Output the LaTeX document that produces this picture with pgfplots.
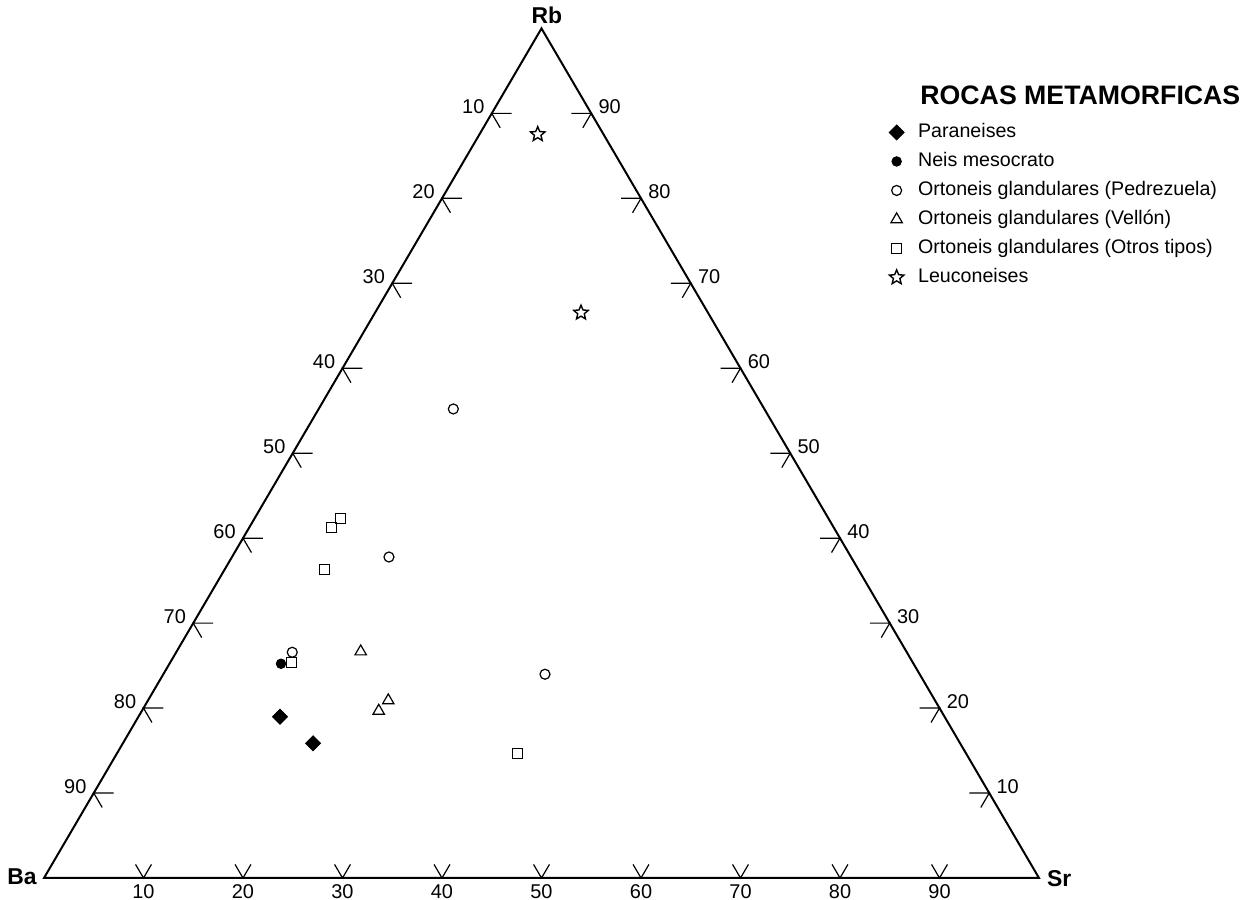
\documentclass[border=0pt]{standalone}
\usepackage{fontspec}
\setmainfont{Liberation Sans}
\usepackage{pgfplots}
\pgfplotsset{compat=1.18}
\pgfdeclareplotmark{ostar}{%
  \pgfpathmoveto{\pgfpointpolar{90}{\pgfplotmarksize}}%
  \pgfpathlineto{\pgfpointpolar{126}{0.45\pgfplotmarksize}}%
  \pgfpathlineto{\pgfpointpolar{162}{\pgfplotmarksize}}%
  \pgfpathlineto{\pgfpointpolar{198}{0.45\pgfplotmarksize}}%
  \pgfpathlineto{\pgfpointpolar{234}{\pgfplotmarksize}}%
  \pgfpathlineto{\pgfpointpolar{270}{0.45\pgfplotmarksize}}%
  \pgfpathlineto{\pgfpointpolar{306}{\pgfplotmarksize}}%
  \pgfpathlineto{\pgfpointpolar{342}{0.45\pgfplotmarksize}}%
  \pgfpathlineto{\pgfpointpolar{18}{\pgfplotmarksize}}%
  \pgfpathlineto{\pgfpointpolar{54}{0.45\pgfplotmarksize}}%
  \pgfpathclose
  \pgfusepathqstroke
}
\begin{document}
\begin{tikzpicture}
\begin{axis}[
  width=628bp, height=450bp, scale only axis,
  xmin=-4.422, xmax=121.81, ymin=-2.243, ymax=89.50,
  hide axis, clip=false,
  legend cell align=left,
  legend style={at={(axis cs:84.9,77.2)}, anchor=north west, draw=none, fill=none,
    inner sep=0pt, row sep=3.1bp,
    font=\fontsize{9.85}{11}\selectfont,
    /tikz/every odd column/.append style={column sep=5bp},
    nodes={text height=7.2bp, text depth=2.2bp, inner ysep=1bp}},
]
% frame
\draw[line width=1bp] (axis cs:0,0) -- (axis cs:100,0) -- (axis cs:50,86.6) -- cycle;
% bottom ticks (Sr)
\pgfplotsinvokeforeach{10,20,...,90}{
  \draw[line width=0.6bp] (axis cs:{#1-0.8},1.386) -- (axis cs:#1,0) -- (axis cs:{#1+0.8},1.386);
  \node[anchor=base, inner sep=0pt, font=\fontsize{10}{12}\selectfont] at (axis cs:#1,-2.14) {#1};
}
% left ticks
\pgfplotsinvokeforeach{10,20,...,90}{
  \draw[line width=0.6bp] (axis cs:{50-#1/2+2},{0.866*(100-#1)}) -- (axis cs:{50-#1/2},{0.866*(100-#1)}) -- (axis cs:{50-#1/2+0.85},{0.866*(100-#1)-1.47});
  \node[anchor=base east, inner sep=0pt, xshift=-3.5bp, font=\fontsize{10}{12}\selectfont] at (axis cs:{50-#1/2},{0.866*(100-#1)}) {#1};
}
% right ticks
\pgfplotsinvokeforeach{10,20,...,90}{
  \draw[line width=0.6bp] (axis cs:{100-#1/2-2},{0.866*#1}) -- (axis cs:{100-#1/2},{0.866*#1}) -- (axis cs:{100-#1/2-0.85},{0.866*#1-1.47});
  \node[anchor=base west, inner sep=0pt, xshift=3.5bp, font=\fontsize{10}{12}\selectfont] at (axis cs:{100-#1/2},{0.866*#1}) {#1};
}
% vertex labels
\node[anchor=base east, inner sep=0pt, font=\bfseries\fontsize{11.5}{13}\selectfont] at (axis cs:-0.7,-0.71) {Ba};
\node[anchor=base west, inner sep=0pt, font=\bfseries\fontsize{11.5}{13}\selectfont] at (axis cs:100.77,-0.89) {Sr};
\node[anchor=base, inner sep=0pt, font=\bfseries\fontsize{11.5}{13}\selectfont] at (axis cs:50.55,87.13) {Rb};
% legend title
\node[anchor=base west, inner sep=0pt, font=\bfseries\fontsize{13.4}{15}\selectfont] at (axis cs:88.04,78.8) {ROCAS METAMORFICAS};

% data
\addplot[only marks, black, mark=square*, mark size=2.65bp, mark options={rotate=45, fill=black}] coordinates {(23.72,16.44) (27.04,13.73)};
\addlegendentry{Paraneises}
\addplot[only marks, black, mark=*, mark size=2.4bp, mark options={fill=black}] coordinates {(23.82,21.84)};
\addlegendentry{Neis mesocrato}
\addplot[only marks, black, mark=o, mark size=2.5bp, mark options={line width=0.6bp}] coordinates {(41.14,47.81) (34.67,32.72) (24.95,23.01) (50.35,20.77)};
\addlegendentry{Ortoneis glandulares (Pedrezuela)}
\addplot[only marks, black, mark=triangle, mark size=3.3bp, mark options={line width=0.6bp}] coordinates {(31.83,23.08) (34.60,18.09) (33.64,17.03)};
\addlegendentry{Ortoneis glandulares (Vellón)}
\addplot[only marks, black, mark=square, mark size=2.5bp, mark options={line width=0.6bp}] coordinates {(29.82,36.63) (28.91,35.70) (28.21,31.46) (24.85,21.95) (47.57,12.71)};
\addlegendentry{Ortoneis glandulares (Otros tipos)}
\addplot[only marks, black, mark=ostar, mark size=3.8bp, mark options={line width=0.7bp}] coordinates {(49.62,75.81) (53.97,57.62)};
\addlegendentry{Leuconeises}
\end{axis}
\pgfresetboundingbox
\path (current axis.south west) rectangle (current axis.north east);
\end{tikzpicture}
\end{document}
